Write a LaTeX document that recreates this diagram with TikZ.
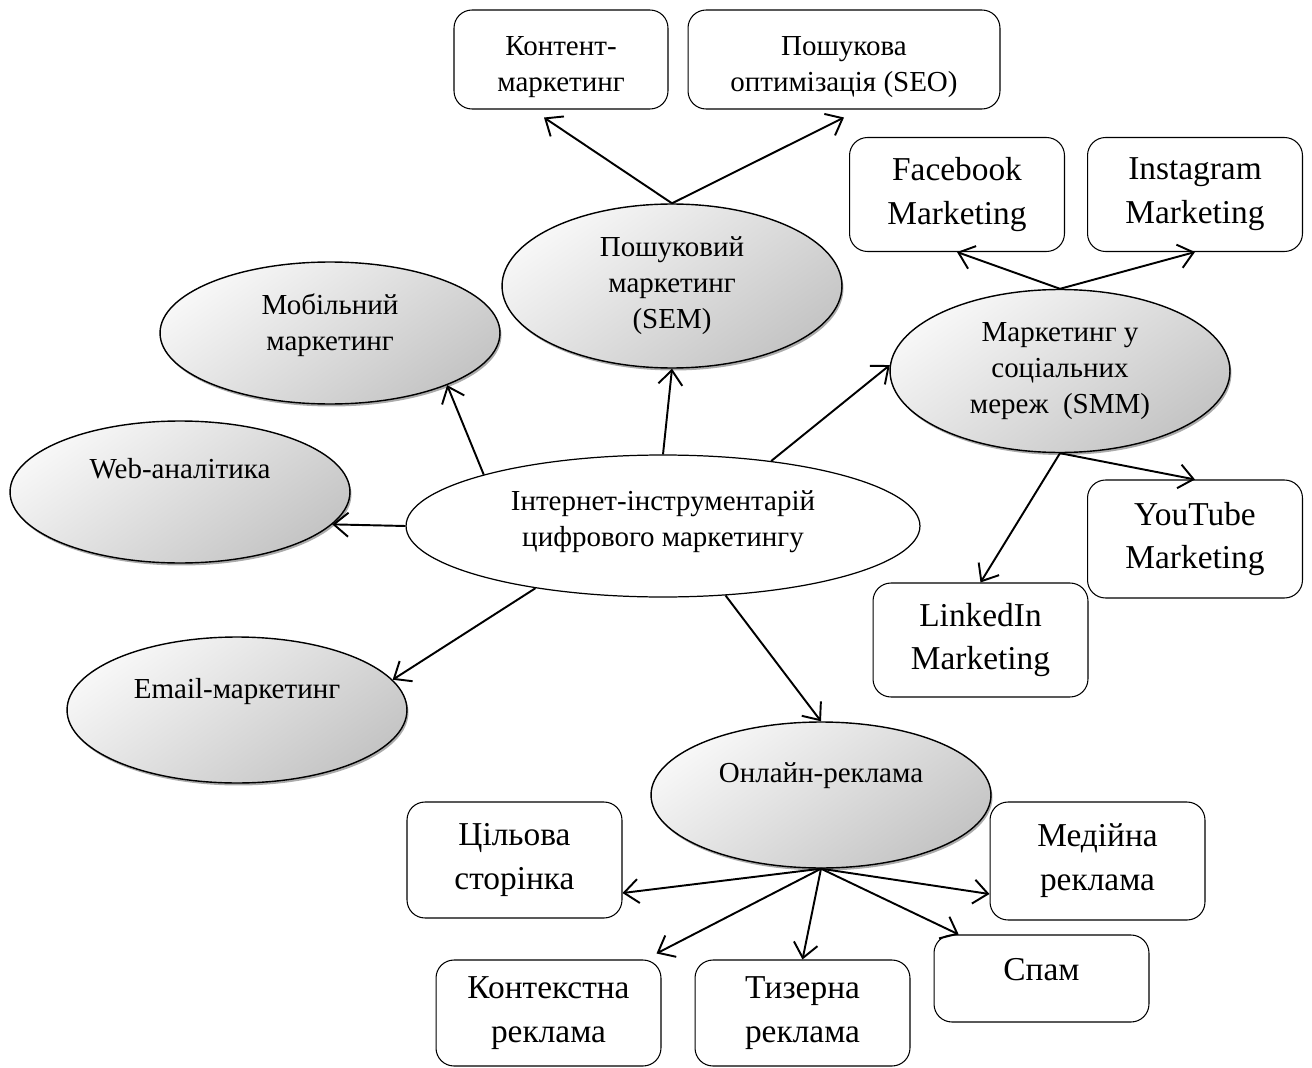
\documentclass[tikz,border=0pt]{standalone}
\usepackage{fontspec}
\setmainfont{Liberation Serif}
\usetikzlibrary{arrows.meta,shapes.geometric,shadows,calc}
\begin{document}
\begin{tikzpicture}[x=0.02cm,y=-0.02cm,
  greyell/.style={ellipse,draw,line width=0.8pt,inner sep=0pt,minimum width=6.8cm,minimum height=2.84cm,
    top color=gray!6,bottom color=gray!46,shading angle=35,
    drop shadow={shadow xshift=0.3mm,shadow yshift=-0.5mm,fill=black!55,opacity=0.6},
    align=center,font=\fontsize{16.5}{20.5}\selectfont},
  whiteell/.style={ellipse,draw,line width=0.7pt,fill=white,inner sep=0pt,align=center,
    font=\fontsize{16.5}{20.5}\selectfont},
  smallbox/.style={draw,rounded corners=0.36cm,line width=0.6pt,fill=white,inner sep=0pt,
    align=center,minimum height=1.98cm,font=\fontsize{16.5}{20.5}\selectfont},
  bigbox/.style={smallbox,minimum width=4.3cm,minimum height=2.28cm,font=\fontsize{19}{25}\selectfont},
  arr/.style={line width=1.1pt,-{Straight Barb[length=2.9mm,width=4.8mm]}}]
\useasboundingbox (0,0) rectangle (1312,1068);

\node[whiteell,minimum width=10.28cm,minimum height=2.84cm,text height=32pt,text depth=8.5pt] (cen) at (663,526) {Інтернет-інструментарій\\цифрового маркетингу};

\node[greyell,minimum height=3.28cm] (sem) at (672,286) {Пошуковий\\маркетинг\\(SEM)};
\node[greyell,text height=32pt,text depth=11.9pt] (mob) at (330,333) {Мобільний\\маркетинг};
\node[greyell,text height=11.3pt,text depth=26.5pt] (web) at (180,492) {Web-аналітика};
\node[greyell,minimum height=2.92cm,text height=11.3pt,text depth=24.1pt] (email) at (237,710) {Email-маркетинг};
\node[greyell,minimum height=3.26cm] (smm) at (1060,371) {Маркетинг у\\соціальних\\мереж~~(SMM)};
\node[greyell,minimum height=2.92cm,text height=11.3pt,text depth=25.3pt] (onl) at (821,795) {Онлайн-реклама};

\node[smallbox,minimum width=4.28cm,text height=36pt,text depth=0pt] (kont) at (561,59.5) {Контент-\\маркетинг};
\node[smallbox,minimum width=6.24cm,text height=36pt,text depth=0pt] (seo) at (844,59.5) {Пошукова\\оптимізація (SEO)};

\node[bigbox] (fb) at (957,194.5) {Facebook\\Marketing};
\node[bigbox] (insta) at (1195,194.5) {Instagram\\Marketing};
\node[bigbox,minimum height=2.36cm] (yt) at (1195,539) {YouTube\\Marketing};
\node[bigbox] (li) at (980.5,640) {LinkedIn\\Marketing};

\node[bigbox,minimum height=2.32cm] (cil) at (514.5,860) {Цільова\\сторінка};
\node[bigbox,minimum height=2.36cm] (med) at (1097.5,861) {Медійна\\реклама};
\node[bigbox,minimum height=1.74cm,text height=13pt,text depth=11pt] (spam) at (1041.5,978.5) {Спам};
\node[bigbox,minimum width=4.5cm,minimum height=2.12cm] (kon) at (548.5,1013) {Контекстна\\реклама};
\node[bigbox,minimum height=2.12cm] (tiz) at (802.5,1013) {Тизерна\\реклама};

\draw[arr] (cen.north) -- (sem.south);
\draw[arr] (cen.164) -- (mob.-24);
\draw[arr] (cen.west) -- (web.-12);
\draw[arr] (cen.206) -- (email.11);
\draw[arr] (cen.31) -- (smm.178);
\draw[arr] (cen.-48) -- (onl.north);

\draw[arr] (sem.north) -- ($(kont.south)+(-17,8)$);
\draw[arr] (sem.north) -- ($(seo.south)+(0,8)$);

\draw[arr] (smm.north) -- (fb.south);
\draw[arr] (smm.north) -- (insta.south);
\draw[arr] (smm.south) -- (yt.north);
\draw[arr] (smm.south) -- (li.north);

\draw[arr] (onl.south) -- (cil.-17);
\draw[arr] (onl.south) -- ($(kon.north east)+(-5,-6)$);
\draw[arr] (onl.south) -- (tiz.north);
\draw[arr] (onl.south) -- (med.197);
\draw[arr] (onl.south) -- (spam.152);
\end{tikzpicture}
\end{document}
